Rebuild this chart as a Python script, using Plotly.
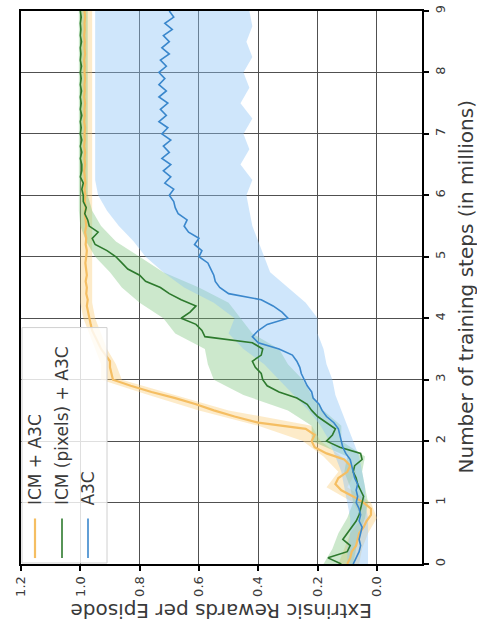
import numpy as np
import plotly.graph_objects as go

# Training steps (millions) at which the mean curves are sampled
steps = [round(0.1 * i, 1) for i in range(91)]

icm_a3c = [
    0.10, 0.09, 0.085, 0.07, 0.065, 0.06, 0.045, 0.035, 0.02, 0.02,
    0.045, 0.08, 0.12, 0.14, 0.13, 0.10, 0.09, 0.11, 0.17, 0.21,
    0.22, 0.21, 0.24, 0.40, 0.48, 0.55, 0.61, 0.68, 0.76, 0.83,
    0.89, 0.895, 0.90, 0.90, 0.915, 0.93, 0.94, 0.95, 0.96, 0.965,
    0.97, 0.975, 0.978, 0.975, 0.98, 0.978, 0.982, 0.978, 0.98, 0.983,
    0.98, 0.978, 0.982, 0.98, 0.984, 0.98, 0.982, 0.985, 0.982, 0.985,
    0.983, 0.986, 0.983, 0.985, 0.987, 0.984, 0.986, 0.984, 0.987, 0.985,
    0.986, 0.984, 0.987, 0.985, 0.986, 0.984, 0.987, 0.985, 0.986, 0.984,
    0.986, 0.985, 0.987, 0.984, 0.986, 0.985, 0.987, 0.985, 0.986, 0.984, 0.986,
]

icm_pixels = [
    0.12, 0.165, 0.10, 0.09, 0.115, 0.10, 0.085, 0.07, 0.06, 0.055,
    0.05, 0.045, 0.055, 0.065, 0.07, 0.08, 0.075, 0.05, 0.055, 0.125,
    0.17, 0.15, 0.14, 0.17, 0.20, 0.22, 0.235, 0.27, 0.33, 0.37,
    0.385, 0.39, 0.41, 0.42, 0.39, 0.385, 0.42, 0.58, 0.59, 0.61,
    0.66, 0.63, 0.61, 0.66, 0.70, 0.73, 0.78, 0.80, 0.84, 0.86,
    0.88, 0.91, 0.95, 0.96, 0.94, 0.97, 0.975, 0.985, 0.98, 0.99,
    0.99, 0.995, 0.99, 1.0, 0.995, 0.995, 1.0, 0.995, 1.0, 0.995,
    1.0, 0.997, 1.0, 0.995, 1.0, 0.997, 1.0, 0.996, 1.0, 0.997,
    1.0, 0.996, 1.0, 0.998, 1.0, 0.996, 1.0, 0.998, 1.0, 0.997, 1.0,
]

a3c = [
    0.08, 0.07, 0.06, 0.055, 0.06, 0.055, 0.05, 0.06, 0.055, 0.06,
    0.07, 0.065, 0.07, 0.065, 0.075, 0.08, 0.085, 0.09, 0.105, 0.115,
    0.12, 0.125, 0.13, 0.145, 0.17, 0.185, 0.195, 0.215, 0.22, 0.235,
    0.245, 0.255, 0.26, 0.27, 0.285, 0.33, 0.40, 0.42, 0.40, 0.37,
    0.30, 0.32, 0.35, 0.39, 0.50, 0.53, 0.545, 0.55, 0.56, 0.57,
    0.60, 0.59, 0.615, 0.60, 0.635, 0.65, 0.64, 0.67, 0.68, 0.685,
    0.70, 0.685, 0.715, 0.695, 0.72, 0.695, 0.725, 0.70, 0.72, 0.695,
    0.725, 0.705, 0.735, 0.71, 0.73, 0.705, 0.735, 0.71, 0.735, 0.715,
    0.735, 0.71, 0.73, 0.70, 0.725, 0.70, 0.72, 0.69, 0.715, 0.685, 0.70,
]

# Spread across runs, sampled every 0.25M steps
band_steps = [0.25 * i for i in range(37)]

icm_a3c_lo = [0.06, 0.05, 0.03, 0.00, 0.02, 0.10, 0.07, 0.12, 0.19, 0.22, 0.50, 0.68, 0.86,
              0.88, 0.91, 0.93, 0.95, 0.96, 0.96, 0.96, 0.96, 0.96, 0.96, 0.96, 0.96, 0.96,
              0.96, 0.96, 0.96, 0.96, 0.96, 0.96, 0.96, 0.96, 0.96, 0.96, 0.96]
icm_a3c_hi = [0.13, 0.11, 0.09, 0.05, 0.08, 0.17, 0.13, 0.18, 0.25, 0.40, 0.60, 0.77, 0.93,
              0.93, 0.95, 0.97, 0.99, 1.0, 1.0, 1.0, 1.0, 1.0, 1.0, 1.0, 1.0, 1.0,
              1.0, 1.0, 1.0, 1.0, 1.0, 1.0, 1.0, 1.0, 1.0, 1.0, 1.0]

icm_pixels_lo = [0.08, 0.07, 0.06, 0.04, 0.03, 0.04, 0.05, 0.04, 0.12, 0.12, 0.18, 0.22, 0.25,
                 0.30, 0.33, 0.42, 0.46, 0.50, 0.60, 0.72, 0.80, 0.88, 0.93, 0.96, 0.975, 0.975,
                 0.975, 0.975, 0.975, 0.975, 0.975, 0.975, 0.975, 0.975, 0.975, 0.975, 0.975]
icm_pixels_hi = [0.18, 0.15, 0.13, 0.10, 0.08, 0.09, 0.11, 0.10, 0.22, 0.22, 0.30, 0.45, 0.55,
                 0.57, 0.58, 0.68, 0.72, 0.80, 0.86, 0.90, 0.95, 0.98, 1.0, 1.005, 1.005, 1.005,
                 1.005, 1.005, 1.005, 1.005, 1.005, 1.005, 1.005, 1.005, 1.005, 1.005, 1.005]

a3c_lo = [0.03, 0.03, 0.03, 0.03, 0.04, 0.04, 0.05, 0.06, 0.08, 0.10, 0.12, 0.14, 0.15,
          0.17, 0.18, 0.20, 0.20, 0.24, 0.30, 0.36, 0.38, 0.40, 0.42, 0.43, 0.44, 0.42,
          0.46, 0.43, 0.45, 0.42, 0.46, 0.43, 0.45, 0.42, 0.44, 0.42, 0.43]
a3c_hi = [0.10, 0.10, 0.09, 0.09, 0.10, 0.11, 0.12, 0.14, 0.16, 0.19, 0.23, 0.28, 0.33,
          0.38, 0.45, 0.50, 0.48, 0.55, 0.65, 0.72, 0.78, 0.82, 0.87, 0.91, 0.94, 0.95,
          0.95, 0.95, 0.95, 0.95, 0.95, 0.95, 0.95, 0.95, 0.95, 0.95, 0.95]

reward_ticks = [0.0, 0.2, 0.4, 0.6, 0.8, 1.0, 1.2]
reward_labels = ["0.0", "0.2", "0.4", "0.6", "0.8", "1.0", "1.2"]
step_ticks = list(range(10))

series = [
    ("ICM + A3C", icm_a3c, icm_a3c_lo, icm_a3c_hi, "#f5be62", "rgba(250,205,120,0.40)", 2.2),
    ("ICM (pixels) + A3C", icm_pixels, icm_pixels_lo, icm_pixels_hi, "#2d7a2d", "rgba(120,195,120,0.38)", 1.6),
    ("A3C", a3c, a3c_lo, a3c_hi, "#3a87cc", "rgba(140,195,245,0.42)", 1.6),
]

FONT = "DejaVu Sans"
TXT = "#3a3a3a"

fig = go.Figure()

# shaded spread, drawn beneath every mean curve
for name, mean, lo, hi, lc, fc, lw in series:
    fig.add_trace(go.Scatter(
        x=list(lo) + list(hi)[::-1],
        y=band_steps + band_steps[::-1],
        fill="toself", fillcolor=fc, line=dict(width=0),
        mode="lines", hoverinfo="skip", showlegend=False,
    ))

for name, mean, lo, hi, lc, fc, lw in series:
    fig.add_trace(go.Scatter(
        x=mean, y=steps, mode="lines", name=name,
        line=dict(color=lc, width=lw), showlegend=False,
    ))

axis_common = dict(
    showgrid=True, gridcolor="#505050", gridwidth=1,
    showline=True, linecolor="black", linewidth=2, mirror=True,
    ticks="outside", ticklen=5, tickwidth=1.5, tickcolor="black",
    zeroline=False, tickangle=-90,
    tickfont=dict(family=FONT, size=13, color=TXT),
)

fig.update_xaxes(range=[1.2, -0.152], tickvals=reward_ticks, ticktext=reward_labels,
                 **axis_common)
fig.update_yaxes(range=[0, 9], tickvals=step_ticks, side="right", **axis_common)

# plot-area geometry in pixels, used to place the legend and titles
W, H = 477, 637
L, R, T, B = 21, 55, 5, 73
pw, ph = W - L - R, H - T - B


def px(xp):
    return (xp - L) / pw


def py(yp):
    return (H - B - yp) / ph


annotations = [
    dict(text="Extrinsic Rewards per Episode", x=0.5, y=py(611), xref="paper", yref="paper",
         textangle=180, showarrow=False, xanchor="center", yanchor="middle",
         font=dict(family=FONT, size=20, color=TXT)),
    dict(text="Number of training steps (in millions)", x=px(465), y=0.5, xref="paper",
         yref="paper", textangle=-90, showarrow=False, xanchor="center", yanchor="middle",
         font=dict(family=FONT, size=20, color=TXT)),
]

shapes = [
    dict(type="rect", xref="paper", yref="paper", x0=px(22), x1=px(107), y0=py(563), y1=py(325),
         fillcolor="rgba(255,255,255,0.82)", line=dict(color="#d0d0d0", width=1), layer="above"),
]

legend_x = [35, 62, 88]
for (name, mean, lo, hi, lc, fc, lw), lx in zip(series, legend_x):
    shapes.append(dict(type="line", xref="paper", yref="paper", x0=px(lx), x1=px(lx),
                       y0=py(558), y1=py(518), line=dict(color=lc, width=lw), layer="above"))
    annotations.append(dict(text=name, x=px(lx), y=py(507), xref="paper", yref="paper",
                            textangle=-90, showarrow=False, xanchor="center", yanchor="bottom",
                            font=dict(family=FONT, size=17, color=TXT)))

fig.update_layout(
    width=W, height=H,
    margin=dict(l=L, r=R, t=T, b=B),
    paper_bgcolor="white", plot_bgcolor="white",
    showlegend=False,
    annotations=annotations, shapes=shapes,
)

fig.write_html("out.html")
